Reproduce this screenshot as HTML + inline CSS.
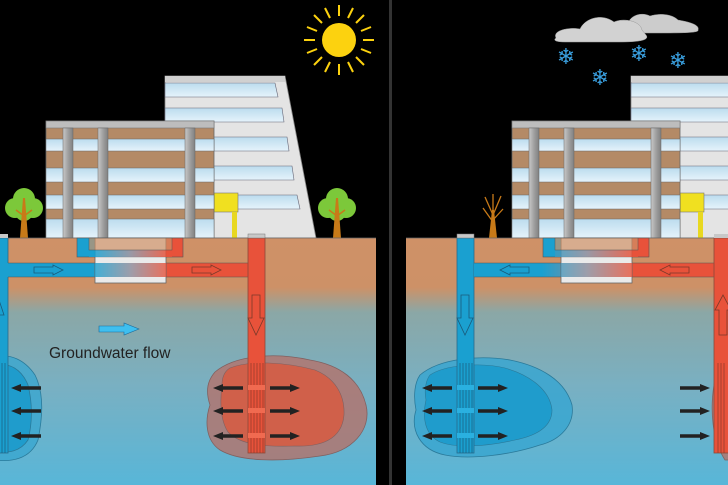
<!DOCTYPE html>
<html><head><meta charset="utf-8"><style>html,body{margin:0;padding:0;background:#000}svg{display:block}</style></head><body>
<svg width="728" height="485" viewBox="0 0 728 485" xmlns="http://www.w3.org/2000/svg">
<defs>
<linearGradient id="ground" x1="0" y1="238" x2="0" y2="485" gradientUnits="userSpaceOnUse">
<stop offset="0" stop-color="#cf9167"/><stop offset="0.2" stop-color="#cd9167"/><stop offset="0.3" stop-color="#8ba7a6"/><stop offset="0.6" stop-color="#79b0c2"/><stop offset="1" stop-color="#58b6d8"/>
</linearGradient>
<linearGradient id="mix" x1="95" y1="0" x2="166" y2="0" gradientUnits="userSpaceOnUse">
<stop offset="0" stop-color="#1aa0d0"/><stop offset="0.5" stop-color="#8a8a9a"/><stop offset="1" stop-color="#e8523a"/>
</linearGradient>
<linearGradient id="mixr" x1="542" y1="0" x2="632" y2="0" gradientUnits="userSpaceOnUse">
<stop offset="0" stop-color="#1aa0d0"/><stop offset="0.5" stop-color="#8a8a9a"/><stop offset="1" stop-color="#e8523a"/>
</linearGradient>
<linearGradient id="col" x1="0" y1="0" x2="1" y2="0"><stop offset="0" stop-color="#c8c8c8"/><stop offset="0.5" stop-color="#a0a0a0"/><stop offset="1" stop-color="#808080"/></linearGradient>
<linearGradient id="win" x1="0" y1="0" x2="0" y2="1"><stop offset="0" stop-color="#bcdcee"/><stop offset="1" stop-color="#e6f3fb"/></linearGradient>
<clipPath id="cl"><rect x="0" y="0" width="376" height="485"/></clipPath>
<clipPath id="cr"><rect x="406" y="0" width="322" height="485"/></clipPath>
<g id="bld">
 <polygon points="165,76 285,76 316,238 165,238" fill="#e4e4e4" stroke="#888" stroke-width="0.8"/>
 <rect x="165" y="76" width="120" height="6" fill="#d0d0d0"/>
 <polygon points="165,83 275,83 278,97 165,97" fill="url(#win)" stroke="#667" stroke-width="0.6"/>
 <polygon points="165,108 282,108 284,122 165,122" fill="url(#win)" stroke="#667" stroke-width="0.6"/>
 <polygon points="165,137 287,137 289,151 165,151" fill="url(#win)" stroke="#667" stroke-width="0.6"/>
 <polygon points="165,166 292,166 294,180 165,180" fill="url(#win)" stroke="#667" stroke-width="0.6"/>
 <polygon points="165,195 297,195 300,209 165,209" fill="url(#win)" stroke="#667" stroke-width="0.6"/>
 <rect x="214" y="193" width="24" height="19" fill="#f0e020" stroke="#777" stroke-width="0.6"/>
 <rect x="232" y="212" width="5" height="26" fill="#e8d820"/>
 <rect x="46" y="121" width="168" height="117" fill="#b48a66" stroke="#666" stroke-width="0.8"/>
 <rect x="46" y="121" width="168" height="7" fill="#bdbdbd" stroke="#777" stroke-width="0.6"/>
 <rect x="46" y="139" width="168" height="12" fill="url(#win)" stroke="#666" stroke-width="0.5"/>
 <rect x="46" y="168" width="168" height="14" fill="url(#win)" stroke="#666" stroke-width="0.5"/>
 <rect x="46" y="195" width="168" height="14" fill="url(#win)" stroke="#666" stroke-width="0.5"/>
 <rect x="46" y="219" width="168" height="19" fill="url(#win)" stroke="#666" stroke-width="0.5"/>
 <rect x="63" y="128" width="10" height="110" fill="url(#col)" stroke="#666" stroke-width="0.5"/>
 <rect x="98" y="128" width="10" height="110" fill="url(#col)" stroke="#666" stroke-width="0.5"/>
 <rect x="185" y="128" width="10" height="110" fill="url(#col)" stroke="#666" stroke-width="0.5"/>
</g>
<g id="harr"><polygon points="0,-1.8 20,-1.8 20,-4 30,0 20,4 20,1.8 0,1.8" fill="#222"/></g>
<g id="tree">
 <circle cx="-9" cy="-30" r="10" fill="#7cc83a"/><circle cx="9" cy="-30" r="10" fill="#7cc83a"/><circle cx="0" cy="-39" r="11" fill="#7cc83a"/><circle cx="0" cy="-26" r="9" fill="#7cc83a"/>
 <polygon points="-4,0 4,0 1,-40 -1,-40" fill="#c87a18"/>
 <line x1="0" y1="-22" x2="-8" y2="-28" stroke="#c87a18" stroke-width="1.5"/><line x1="0" y1="-22" x2="8" y2="-28" stroke="#c87a18" stroke-width="1.5"/>
</g>
</defs>

<rect width="728" height="485" fill="#000"/>
<rect x="389" y="0" width="3" height="485" fill="#333"/>

<g clip-path="url(#cl)">
 <circle cx="339" cy="40" r="17" fill="#fcd20f"/>
 <g stroke="#fcd20f" stroke-width="2">
  <line x1="339" y1="5" x2="339" y2="16"/><line x1="339" y1="64" x2="339" y2="75"/>
  <line x1="304" y1="40" x2="315" y2="40"/><line x1="363" y1="40" x2="374" y2="40"/>
  <line x1="314" y1="15" x2="322" y2="23"/><line x1="356" y1="57" x2="364" y2="65"/>
  <line x1="364" y1="15" x2="356" y2="23"/><line x1="322" y1="57" x2="314" y2="65"/>
  <line x1="325" y1="8" x2="330" y2="18"/><line x1="353" y1="8" x2="348" y2="18"/>
  <line x1="325" y1="72" x2="330" y2="62"/><line x1="353" y1="72" x2="348" y2="62"/>
  <line x1="307" y1="27" x2="317" y2="31"/><line x1="371" y1="27" x2="361" y2="31"/>
  <line x1="307" y1="53" x2="317" y2="49"/><line x1="371" y1="53" x2="361" y2="49"/>
 </g>
 <use href="#bld"/>
 <use href="#tree" transform="translate(24,238)"/>
 <use href="#tree" transform="translate(337,238)"/>
 <rect x="0" y="238" width="376" height="247" fill="url(#ground)"/>
 <line x1="0" y1="238" x2="376" y2="238" stroke="#666" stroke-width="0.8"/>
 <path d="M-5,357 C10,353 25,360 35,375 C45,395 42,420 38,440 C30,460 10,462 -5,460 Z" fill="#3aa6d0" fill-opacity="0.8" stroke="#2a7a9a" stroke-width="0.8"/>
 <path d="M-5,365 C10,362 22,370 28,385 C33,405 32,425 28,440 C20,452 8,453 -5,452 Z" fill="#1f9ccc" stroke="#2a7a9a" stroke-width="0.8"/>
 <path d="M215,372 C235,355 275,352 310,360 C340,365 360,380 366,405 C372,430 352,452 320,456 C280,462 240,462 220,450 C205,440 205,420 210,405 C205,390 208,380 215,372 Z" fill="#b07670" fill-opacity="0.85" stroke="#806060" stroke-width="0.8"/>
 <path d="M230,368 C250,360 285,362 315,370 C335,378 345,395 344,415 C342,440 320,447 295,446 C265,447 240,445 228,432 C220,420 220,400 222,385 C222,377 225,371 230,368 Z" fill="#d0604a" stroke="#806060" stroke-width="0.6"/>
 <rect x="-2" y="238" width="10" height="215" fill="#1aa0d0" stroke="#2a6a8a" stroke-width="0.8"/>
 <rect x="0" y="263" width="250" height="14" fill="#1aa0d0"/>
 <rect x="165" y="263" width="85" height="14" fill="#e8523a"/>
 <rect x="95" y="263" width="71" height="14" fill="url(#mix)"/>
 <line x1="8" y1="263" x2="248" y2="263" stroke="#555" stroke-width="0.6"/><line x1="8" y1="277" x2="248" y2="277" stroke="#555" stroke-width="0.6"/>
 <rect x="248" y="238" width="17" height="215" fill="#e8523a" stroke="#8a4a3a" stroke-width="0.8"/>
 <rect x="248" y="234" width="17" height="4" fill="#c8c8c8" stroke="#777" stroke-width="0.5"/>
 <rect x="-2" y="234" width="10" height="4" fill="#c8c8c8"/>
 <rect x="95" y="238" width="71" height="45" fill="#eaeaea" stroke="#666" stroke-width="0.8"/>
 <line x1="95" y1="257" x2="166" y2="257" stroke="#888" stroke-width="0.6"/>
 <rect x="77" y="238" width="18" height="19" fill="#1aa0d0" stroke="#555" stroke-width="0.6"/>
 <rect x="166" y="238" width="17" height="19" fill="#e8523a" stroke="#555" stroke-width="0.6"/>
 <rect x="89" y="250" width="83" height="7" fill="url(#mix)" fill-opacity="0.85"/>
 <rect x="89" y="238" width="83" height="12" fill="#cf9167" fill-opacity="0.7" stroke="#555" stroke-width="0.5"/>
 <rect x="95" y="263" width="71" height="14" fill="url(#mix)" fill-opacity="0.8"/>
 <polygon points="34,267 53,267 53,265 63,270 53,275 53,273 34,273" fill="#1aa0d0" stroke="#1a5a7a" stroke-width="0.8"/>
 <polygon points="192,267 211,267 211,265 221,270 211,275 211,273 192,273" fill="#e8523a" stroke="#7a3a2a" stroke-width="0.8"/>
 <polygon points="252,295 260,295 260,318 264,318 256,335 248,318 252,318" fill="#e8523a" stroke="#7a3a2a" stroke-width="0.8"/>
 <polygon points="-1,335 -1,315 4,315 -1,300" fill="none" stroke="#1a5a7a" stroke-width="0.8"/>
 <g stroke="#8a3a2a" stroke-width="0.7">
  <line x1="251" y1="363" x2="251" y2="453"/><line x1="254" y1="363" x2="254" y2="453"/><line x1="257" y1="363" x2="257" y2="453"/><line x1="260" y1="363" x2="260" y2="453"/><line x1="263" y1="363" x2="263" y2="453"/>
 </g>
 <g fill="#f06a50"><rect x="248" y="385" width="17" height="5"/><rect x="248" y="408" width="17" height="5"/><rect x="248" y="433" width="17" height="5"/></g>
 <g stroke="#1a5a7a" stroke-width="0.7">
  <line x1="2" y1="363" x2="2" y2="453"/><line x1="5" y1="363" x2="5" y2="453"/>
 </g>
 <use href="#harr" transform="translate(270,388)"/><use href="#harr" transform="translate(270,411)"/><use href="#harr" transform="translate(270,436)"/>
 <g transform="translate(243,0) scale(-1,1)"><use href="#harr" transform="translate(0,388)"/><use href="#harr" transform="translate(0,411)"/><use href="#harr" transform="translate(0,436)"/></g>
 <g transform="translate(41,0) scale(-1,1)"><use href="#harr" transform="translate(0,388)"/><use href="#harr" transform="translate(0,411)"/><use href="#harr" transform="translate(0,436)"/></g>
 <polygon points="99,326 124,326 124,323 139,329 124,335 124,332 99,332" fill="#3fbfef" stroke="#1a6a9a" stroke-width="0.6"/>
 <text x="49" y="358" font-family="Liberation Sans, sans-serif" font-size="15.5" fill="#222">Groundwater flow</text>
</g>

<g clip-path="url(#cr)">
 <path d="M628,25 C628,17 640,11 650,16 C660,13 672,14 678,20 C690,22 700,25 698,30 C700,33 680,33 660,33 L630,33 Z" fill="#cccccc" stroke="#999" stroke-width="0.5"/>
 <path d="M556,38 C552,30 570,27 580,29 C585,18 602,13 614,22 C622,18 640,20 642,30 L646,35 C650,40 640,42 620,42 L565,42 C555,42 553,40 556,38 Z" fill="#d2d2d2" stroke="#999" stroke-width="0.5"/>
 <g font-family="DejaVu Sans, sans-serif" font-size="22" fill="#3aa0e0" text-anchor="middle">
  <text x="566" y="64">❄</text><text x="600" y="85">❄</text><text x="639" y="61">❄</text><text x="678" y="68">❄</text>
 </g>
 <use href="#bld" transform="translate(466,0)"/>
 <g stroke="#c87a18" stroke-width="1.3" fill="none">
  <line x1="493" y1="215" x2="485" y2="197"/><line x1="493" y1="215" x2="501" y2="196"/><line x1="493" y1="222" x2="483" y2="208"/><line x1="493" y1="220" x2="503" y2="209"/><line x1="493" y1="215" x2="493" y2="194"/>
 </g>
 <polygon points="489,238 497,238 494,210 492,210" fill="#c87a18"/>
 <rect x="406" y="238" width="322" height="247" fill="url(#ground)"/>
 <line x1="406" y1="238" x2="728" y2="238" stroke="#666" stroke-width="0.8"/>
 <path d="M420,375 C440,358 480,355 510,360 C540,366 565,380 572,405 C575,425 560,440 540,445 C510,455 470,460 445,455 C420,450 410,430 416,410 C413,395 415,382 420,375 Z" fill="#3aa6d0" fill-opacity="0.85" stroke="#2a7a9a" stroke-width="0.8"/>
 <path d="M430,375 C445,365 480,362 505,368 C530,375 550,390 552,410 C552,428 535,436 515,440 C485,447 455,448 440,442 C425,435 422,418 426,400 C424,390 426,380 430,375 Z" fill="#1f9ccc" stroke="#2a7a9a" stroke-width="0.6"/>
 <path d="M735,356 C725,355 717,365 714,385 C710,410 712,440 725,460 L735,460 Z" fill="#b07670" fill-opacity="0.85" stroke="#806060" stroke-width="0.8"/>
 <rect x="457" y="238" width="17" height="215" fill="#1aa0d0" stroke="#2a6a8a" stroke-width="0.8"/>
 <rect x="457" y="234" width="17" height="4" fill="#c8c8c8" stroke="#777" stroke-width="0.5"/>
 <rect x="474" y="263" width="260" height="14" fill="#e8523a"/>
 <rect x="474" y="263" width="80" height="14" fill="#1aa0d0"/>
 <rect x="542" y="263" width="90" height="14" fill="url(#mixr)"/>
 <line x1="474" y1="263" x2="714" y2="263" stroke="#555" stroke-width="0.6"/><line x1="474" y1="277" x2="714" y2="277" stroke="#555" stroke-width="0.6"/>
 <rect x="714" y="238" width="20" height="215" fill="#e8523a" stroke="#8a4a3a" stroke-width="0.8"/>
 <rect x="714" y="234" width="20" height="4" fill="#c8c8c8"/>
 <rect x="561" y="238" width="71" height="45" fill="#eaeaea" stroke="#666" stroke-width="0.8"/>
 <line x1="561" y1="257" x2="632" y2="257" stroke="#888" stroke-width="0.6"/>
 <rect x="543" y="238" width="18" height="19" fill="#1aa0d0" stroke="#555" stroke-width="0.6"/>
 <rect x="632" y="238" width="17" height="19" fill="#e8523a" stroke="#555" stroke-width="0.6"/>
 <rect x="555" y="250" width="83" height="7" fill="url(#mixr)" fill-opacity="0.85"/>
 <rect x="555" y="238" width="83" height="12" fill="#cf9167" fill-opacity="0.7" stroke="#555" stroke-width="0.5"/>
 <rect x="561" y="263" width="71" height="14" fill="url(#mixr)" fill-opacity="0.8"/>
 <polygon points="529,267 510,267 510,265 500,270 510,275 510,273 529,273" fill="#1aa0d0" stroke="#1a5a7a" stroke-width="0.8"/>
 <polygon points="689,267 670,267 670,265 660,270 670,275 670,273 689,273" fill="#e8523a" stroke="#7a3a2a" stroke-width="0.8"/>
 <polygon points="461,295 469,295 469,318 473,318 465,335 457,318 461,318" fill="#1aa0d0" stroke="#1a5a7a" stroke-width="0.8"/>
 <polygon points="719,335 727,335 727,310 731,310 723,295 715,310 719,310" fill="#e8523a" stroke="#7a3a2a" stroke-width="0.8"/>
 <g stroke="#1a5a7a" stroke-width="0.7">
  <line x1="460" y1="363" x2="460" y2="453"/><line x1="463" y1="363" x2="463" y2="453"/><line x1="466" y1="363" x2="466" y2="453"/><line x1="469" y1="363" x2="469" y2="453"/><line x1="472" y1="363" x2="472" y2="453"/>
 </g>
 <g fill="#2ab0e0"><rect x="457" y="385" width="17" height="5"/><rect x="457" y="408" width="17" height="5"/><rect x="457" y="433" width="17" height="5"/></g>
 <g stroke="#8a3a2a" stroke-width="0.7">
  <line x1="718" y1="363" x2="718" y2="453"/><line x1="721" y1="363" x2="721" y2="453"/><line x1="724" y1="363" x2="724" y2="453"/>
 </g>
 <use href="#harr" transform="translate(478,388)"/><use href="#harr" transform="translate(478,411)"/><use href="#harr" transform="translate(478,436)"/>
 <g transform="translate(452,0) scale(-1,1)"><use href="#harr" transform="translate(0,388)"/><use href="#harr" transform="translate(0,411)"/><use href="#harr" transform="translate(0,436)"/></g>
 <use href="#harr" transform="translate(680,388)"/><use href="#harr" transform="translate(680,411)"/><use href="#harr" transform="translate(680,436)"/>
</g>
</svg>
</body></html>
